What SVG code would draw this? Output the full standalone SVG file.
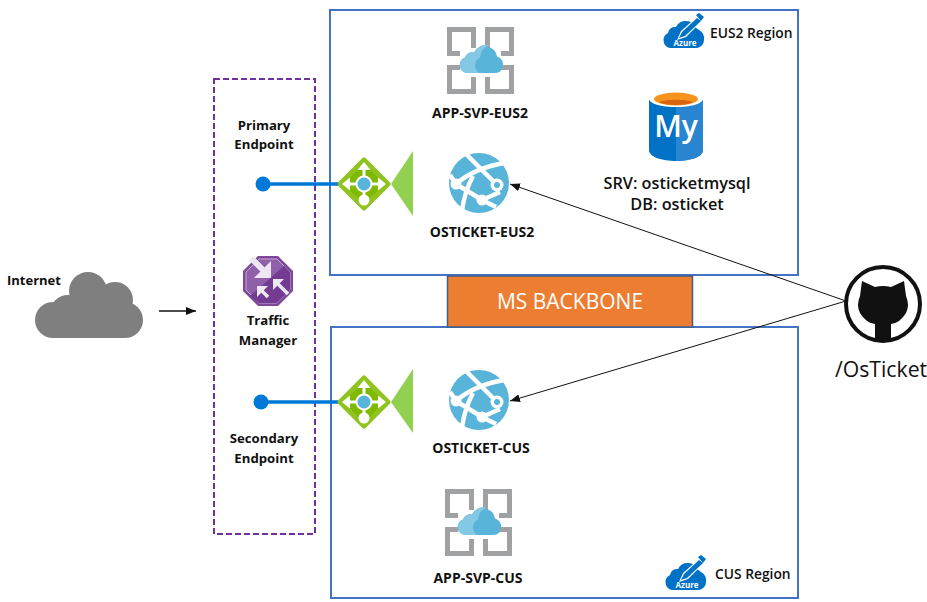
<svg xmlns="http://www.w3.org/2000/svg" width="927" height="602" viewBox="0 0 927 602">
<style>
text{font-family:"Open Sans","Noto Sans","Liberation Sans",sans-serif;fill:#111}
.l{font-size:13.200px;font-weight:700;text-anchor:middle}
.u{font-size:14px;font-weight:700;text-anchor:middle}
.db{font-size:16.300px;font-weight:600;text-anchor:middle}
.rl{font-size:13.800px;font-weight:600}
.region{fill:#fff;stroke:#4472C4;stroke-width:2}
.thin{fill:none;stroke:#111;stroke-width:1}
.blue{fill:none;stroke:#0078D7;stroke-width:3.500}
.tm{fill:none;stroke:#efe7f3;stroke-width:3.500}
</style>
<defs>
<marker id="ah" viewBox="0 0 10 8" refX="10" refY="4" markerWidth="10" markerHeight="8" markerUnits="userSpaceOnUse" orient="auto"><path d="M0 0L10 4L0 8z" fill="#111"/></marker>
<g id="app">
<path d="M0 0H29V21H24V5H5V24H13V29H0zM38 0H67V29H54V24H62V5H43V21H38zM0 38H13V43H5V62H24V50H29V67H0zM54 38H67V67H38V50H43V62H62V43H54z" fill="#a0a1a2"/>
<path d="M20 46a8 8 0 0 1-2-15.500a7.500 7.500 0 0 1 9-5a12.500 12.500 0 0 1 23 4a8.500 8.500 0 0 1-1 16.500z" fill="#59b4d9"/>
<path d="M32 46H20a8 8 0 0 1-2-15.500a7.500 7.500 0 0 1 9-5a12.500 12.500 0 0 1 15-7a14 14 0 0 0-9 12a9 9 0 0 0-1 15.500z" fill="#83c8e4"/>
</g>
<g id="gw">
<path d="M0-24L24 0L0 24L-24 0z" fill="#7fba00" stroke="#8fc31f" stroke-width="5" stroke-linejoin="round"/>
<path d="M-19 0H19M0-19V17" stroke="#fff" stroke-width="3"/>
<path d="M-22 0l8-6.500v13zM22 0l-8-6.500v13zM0-22l-6.500 8h13z" fill="#fff"/>
<circle cy="16" r="5.500" fill="#fff"/>
<circle r="7.500" fill="#59b4d9" stroke="#fff" stroke-width="2"/>
</g>
<g id="web">
<circle r="30" fill="#59b4d9"/>
<path d="M-12-28L18 2M25-20C8-17-8-12-23 1M-23 1L3 17L21 9M-6-7C-12 4-15 14-17 27M-29-8L-23 1M3 17L17 24" fill="none" stroke="#fff" stroke-width="4.500"/>
<circle cx="18" cy="2" r="6.500" fill="#fff"/><circle cx="18" cy="2" r="3" fill="#59b4d9"/>
<circle cx="-23" cy="1" r="5.500" fill="#fff"/>
<circle cx="3" cy="17" r="5.500" fill="#fff"/>
</g>
<g id="az">
<path d="M7 33a8 8 0 0 1-2-15a7 7 0 0 1 8-6a11 11 0 0 1 20 1a9 9 0 0 1 3 2a9 9 0 0 1 5 10a8 8 0 0 1-7 8z" fill="#0072C6"/>
<path d="M14 25L18 16L35 1L40 5L23 22z" fill="#fff"/>
<path d="M16 23L19 17L34 3L38 6L22 21z" fill="#0072C6"/>
<path d="M33 0L36-2L41 2L38 6z" fill="#0072C6"/>
<text x="22" y="31" font-size="8" font-weight="700" text-anchor="middle" style="fill:#fff">Azure</text>
</g>
</defs>
<rect width="927" height="602" fill="#fff"/>
<g id="region-eus2"><rect class="region" x="330" y="10" width="468" height="265"/></g>
<g id="region-cus"><rect class="region" x="331" y="327" width="467" height="271"/></g>
<g id="backbone"><rect x="447.500" y="276" width="245" height="51" fill="#ED7D31" stroke="#3d5f8a" stroke-width="1.500"/><text x="570" y="309" font-size="21" text-anchor="middle" style="fill:#fff">MS BACKBONE</text></g>
<g id="traffic-group"><rect x="214" y="79" width="101" height="455" fill="none" stroke="#7030A0" stroke-width="2" stroke-dasharray="6 3"/></g>
<g id="connectors">
<path class="blue" d="M263 184H340M261 402H340"/>
<path class="thin" d="M846 301L510 184" marker-end="url(#ah)"/>
<path class="thin" d="M846 301L510 401" marker-end="url(#ah)"/>
<path class="thin" d="M159 311H196" marker-end="url(#ah)" style="stroke-width:1.500"/>
</g>
<g id="primary-endpoint"><circle cx="263" cy="184" r="7.500" fill="#0078D7"/><text class="l" x="264" y="130">Primary</text><text class="l" x="264" y="149">Endpoint</text></g>
<g id="secondary-endpoint"><circle cx="261" cy="402" r="7.500" fill="#0078D7"/><text class="l" x="264" y="443">Secondary</text><text class="l" x="264" y="463">Endpoint</text></g>
<g id="traffic-manager">
<path d="M258 256H278L293 271V291L278 306H258L243 291V271z" fill="#804998"/>
<path d="M259 259H277L290 272V290L277 303H259L246 290V272z" fill="#8f5fa9" stroke="#c4a6d3" stroke-width="1"/>
<path d="M290 272V290L277 303H259L250 296L284 266z" fill="#733b92"/>
<path d="M251 258L265 272" style="stroke:#efe7f3;stroke-width:6;fill:none"/>
<path d="M271 278H254L271 261z" fill="#efe7f3"/>
<path class="tm" d="M268 297L260 289M288 294L276 282"/>
<path d="M257 286H268L257 297zM273 279H284L273 290z" fill="#efe7f3"/>
<text class="l" x="268" y="325">Traffic</text><text class="l" x="268" y="345">Manager</text>
</g>
<g id="internet">
<g fill="#7f7f7f"><circle cx="53" cy="320" r="18"/><circle cx="68" cy="313" r="18"/><circle cx="88" cy="291" r="19"/><circle cx="115" cy="300" r="18"/><circle cx="125" cy="320" r="18"/><rect x="53" y="305" width="72" height="33"/></g>
<text x="7" y="285" font-size="13" font-weight="700">Internet</text>
</g>
<g id="app-svp-eus2"><use href="#app" x="447" y="27"/><text class="u" x="480" y="118">APP-SVP-EUS2</text></g>
<g id="app-svp-cus"><use href="#app" x="445" y="489"/><text class="u" x="478" y="583">APP-SVP-CUS</text></g>
<g id="gateway-eus2"><use href="#gw" x="364" y="184"/><path d="M391 184L413 151V216z" fill="#92D050"/></g>
<g id="gateway-cus"><use href="#gw" x="364" y="402"/><path d="M391 402L413 369V433z" fill="#92D050"/></g>
<g id="osticket-eus2"><use href="#web" x="479" y="183"/><text class="u" x="482" y="237">OSTICKET-EUS2</text></g>
<g id="osticket-cus"><use href="#web" x="479" y="400"/><text class="u" x="481" y="453">OSTICKET-CUS</text></g>
<g id="mysql">
<path d="M649 99V150C649 157 662 161 676 161C690 161 703 157 703 150V99z" fill="#0072C6"/>
<path d="M676 99H703V150C703 157 690 161 676 161z" fill="#2a85d0"/>
<ellipse cx="676" cy="99" rx="27" ry="8" fill="#fff"/>
<ellipse cx="676" cy="99" rx="22" ry="6.500" fill="#F7941D"/>
<path d="M659 102C665 99 687 99 693 102C687 106 665 106 659 102z" fill="#d9660f"/>
<text x="676" y="137" font-size="30" font-weight="600" text-anchor="middle" style="fill:#fff">My</text>
<text class="db" x="677" y="189">SRV: osticketmysql</text><text class="db" x="677" y="210">DB: osticket</text>
</g>
<g id="eus2-label"><use href="#az" x="663" y="15"/><text class="rl" x="710" y="38">EUS2 Region</text></g>
<g id="cus-label"><use href="#az" x="665" y="557"/><text class="rl" x="715" y="579">CUS Region</text></g>
<g id="github">
<circle cx="883" cy="304" r="37" fill="#fff" stroke="#111" stroke-width="4"/>
<path d="M862 281L875 287Q883 285 891 287L904 281L906 296Q910 305 906 313Q900 323 891 324V341H875V324Q866 323 860 313Q856 305 860 296z" fill="#111"/>
<text x="835" y="377" font-size="21.200" font-weight="400">/OsTicket</text>
</g>
</svg>
